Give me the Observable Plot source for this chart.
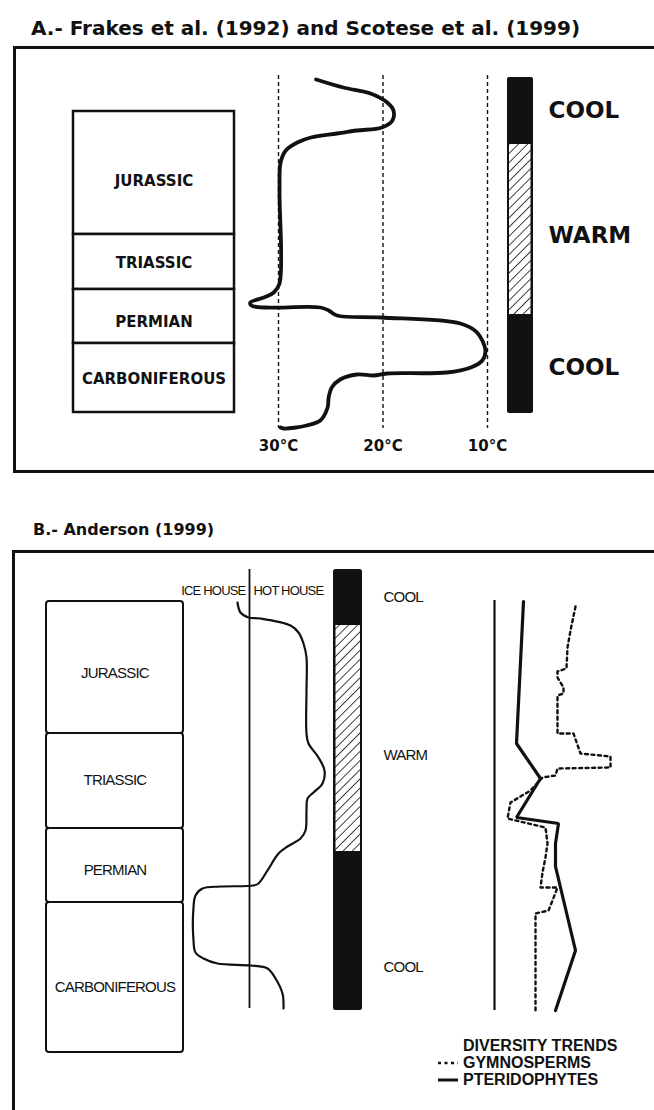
<!DOCTYPE html>
<html><head><meta charset="utf-8">
<script src="https://cdn.jsdelivr.net/npm/d3@7"></script>
<script src="https://cdn.jsdelivr.net/npm/@observablehq/plot@0.6"></script>
<style>
html,body{margin:0;padding:0;background:#fff;}
body{width:654px;height:1110px;position:relative;overflow:hidden;}
.title{position:absolute;font-family:"DejaVu Sans",Verdana,sans-serif;font-weight:bold;color:#111;white-space:nowrap;}
.frame{position:absolute;border:3px solid #111;box-sizing:border-box;}
.panel{position:absolute;left:0;width:654px;}
.panel svg{position:absolute;left:0;top:0;}
.legend{position:absolute;left:437px;top:1037px;font-family:"Liberation Sans",Arial,sans-serif;font-weight:bold;font-size:16px;line-height:17px;color:#111;}
.legend div{display:flex;align-items:center;white-space:nowrap;}
.legend svg{width:22px;height:10px;margin-right:4px;flex:none;}
</style></head><body>
<svg width="0" height="0" style="position:absolute"><defs>
<pattern id="hatch" width="6.5" height="6.5" patternUnits="userSpaceOnUse" patternTransform="rotate(45)">
<rect width="6.5" height="6.5" fill="white"/>
<line x1="0" y1="0" x2="0" y2="6.5" stroke="#111" stroke-width="1.6"/>
</pattern></defs></svg>

<div class="title" style="left:31px;top:15px;font-size:20px;line-height:26px">A.- Frakes et al. (1992) and Scotese et al. (1999)</div>
<div class="frame" style="left:13px;top:46px;width:660px;height:427px"></div>
<div class="panel" id="panelA" style="top:46px;height:428px"></div>

<div class="title" style="left:33px;top:520px;font-size:16px;line-height:20px">B.- Anderson (1999)</div>
<div class="frame" style="left:12px;top:550px;width:660px;height:600px"></div>
<div class="panel" id="panelB" style="top:550px;height:560px"></div>
<div class="legend" id="legend"></div>

<script>
// ---------- shared categories ----------
const periods = ["JURASSIC", "TRIASSIC", "PERMIAN", "CARBONIFEROUS"];
const climateStates = ["COOL", "WARM", "COOL"];

// ---------- Panel A : Frakes et al. (1992) / Scotese et al. (1999) ----------
// vertical unit = stratigraphic level (top of figure = 0)
const boundsA = [111, 234, 289, 343, 412];
const labelLevelA = [181, 263, 322, 379];
const tempTicksA = [30, 20, 10];
const tempLinesA = [75, 428];
const curveA_temp = [26.4, 23.8, 21.2, 19.6, 19.0, 19.1, 20.1, 22.5, 24.4, 26.9, 28.2, 29.3, 29.8, 29.9, 29.9, 30.45, 31.4, 32.7, 32.6, 31.4, 26.0, 25.2, 24.4, 20.2, 12.6, 11.0, 10.2, 10.5, 11.6, 13.9, 19.6, 20.9, 22.5, 24.1, 24.9, 25.2, 25.3, 26.0, 27.3, 29.5, 29.8];
const curveA_level = [79, 87, 93, 102, 110, 120, 127, 130, 133, 137, 142, 150, 162, 190, 283, 292, 297, 302, 305, 307, 307, 310, 315, 317, 323, 332, 350, 360, 367, 372, 373, 375, 374, 379, 387, 397, 407, 420, 425, 428, 427];
const climateBoundsA = [77, 144, 314, 413];
const climateLabelLevelA = [110, 235, 367];

// ---------- Panel B : Anderson (1999) ----------
const boundsB = [601, 733, 828, 902, 1052];
const labelLevelB = [673, 780, 870, 987];
const houseLabels = ["ICE HOUSE", "HOT HOUSE"];
const houseDivide = 0;
const houseLineB = [569, 1008];
const curveB_index = [-1.2, -0.9, -0.1, 1.1, 4.1, 4.9, 5.4, 5.7, 5.7, 5.7, 5.9, 6.9, 7.5, 7.3, 6.4, 5.8, 5.7, 5.6, 5.1, 3.8, 2.9, 1.8, 0.9, 0.4, -2.9, -4.7, -5.4, -5.6, -5.6, -5.4, -4.6, -3.2, 0.1, 1.8, 2.6, 3.3, 3.4];
const curveB_level = [602, 612, 617, 618, 625, 632, 643, 657, 690, 733, 743, 757, 770, 783, 792, 798, 810, 830, 838, 846, 853, 870, 883, 885, 886, 888, 895, 907, 940, 952, 958, 963, 965, 968, 978, 993, 1008];
const climateBoundsB = [569, 625, 851, 1010];
const climateLabelLevelB = [597, 755, 967];

// diversity trends
const diversitySeries = ["GYMNOSPERMS", "PTERIDOPHYTES"];
const diversityBaseline = [600, 1010];
const pteridoValue = [2.9, 2.2, 4.6, 2.2, 6.4, 6.1, 6.1, 8.1, 6.1];
const pteridoLevel = [601, 743, 778, 817, 823, 843, 866, 950, 1010];
const gymnoValue = [8.1, 7.6, 7.3, 7.2, 6.3, 6.3, 6.9, 6.9, 6.3, 6.3, 7.9, 8.6, 11.6, 11.6, 6.3, 6.1, 4.8, 3.6, 1.6, 1.3, 5.1, 5.3, 5.1, 4.8, 4.6, 6.3, 5.8, 5.4, 4.1, 4.1];
const gymnoLevel = [606, 630, 647, 668, 671, 677, 687, 693, 695, 733, 733, 753, 756, 767, 768, 775, 777, 790, 802, 818, 827, 843, 857, 872, 887, 887, 900, 910, 913, 1010];

// ---------- tables ----------
const ink = "#111";
const periodTable = (b, l) => periods.map((p, i) => ({period: p, y1: b[i], y2: b[i + 1], ly: l[i]}));
const climateTable = (b, l) => climateStates.map((s, i) => ({state: s, y1: b[i], y2: b[i + 1], ly: l[i]}));
const zipXY = (xs, ys) => xs.map((x, i) => ({x, y: ys[i]}));

function layer(container, top, H, opts) {
  const svg = Plot.plot(Object.assign({
    width: 654, height: H,
    marginTop: 0, marginBottom: 0, marginLeft: 0, marginRight: 0
  }, opts, {
    y: {domain: [top, top + H], range: [0, H], axis: null},
    style: {background: "transparent", overflow: "visible"}
  }));
  container.append(svg);
}

// ===== Panel A =====
const pA = document.getElementById("panelA");
const topA = 46, HA = 428;
const fontA = "DejaVu Sans, Verdana, sans-serif";

// stratigraphic column
layer(pA, topA, HA, {
  marginLeft: 73, marginRight: 654 - 234,
  marks: [
    Plot.rect(periodTable(boundsA, labelLevelA), {y1: "y1", y2: "y2", fill: "white", stroke: ink, strokeWidth: 2.5}),
    Plot.text(periodTable(boundsA, labelLevelA), {y: "ly", text: "period", fontFamily: fontA, fontWeight: "bold", fontSize: 15, fill: ink})
  ]
});

// temperature curve
layer(pA, topA, HA, {
  marginBottom: HA - (450 - topA),
  x: {domain: [30, 10], range: [278, 487], axis: null},
  marks: [
    Plot.ruleX(tempTicksA, {x: d => d, y1: () => tempLinesA[0], y2: () => tempLinesA[1], stroke: ink, strokeWidth: 1.4, strokeDasharray: "4,3"}),
    Plot.line(zipXY(curveA_temp, curveA_level), {x: "x", y: "y", curve: "catmull-rom", stroke: ink, strokeWidth: 3.8, strokeLinejoin: "round", strokeLinecap: "round"}),
    Plot.text(tempTicksA, {x: d => d, text: d => `${d}°C`, frameAnchor: "bottom", fontFamily: fontA, fontWeight: "bold", fontSize: 15, fill: ink})
  ]
});

// climate bar
layer(pA, topA, HA, {
  marginLeft: 507, marginRight: 654 - 533,
  marks: [
    Plot.rect([{y1: climateBoundsA[0], y2: climateBoundsA[3]}], {y1: "y1", y2: "y2", fill: ink, rx: 2}),
    Plot.rect(climateTable(climateBoundsA, climateLabelLevelA).filter(d => d.state === "WARM"), {y1: "y1", y2: "y2", fill: "url(#hatch)", insetLeft: 2, insetRight: 2.5})
  ]
});

// climate labels
layer(pA, topA, HA, {
  marginLeft: 548,
  marks: [
    Plot.text(climateTable(climateBoundsA, climateLabelLevelA), {y: "ly", text: "state", frameAnchor: "left", textAnchor: "start", fontFamily: fontA, fontWeight: "bold", fontSize: 23, fill: ink})
  ]
});

// ===== Panel B =====
const pB = document.getElementById("panelB");
const topB = 550, HB = 560;
const fontB = "Liberation Sans, Arial, sans-serif";

layer(pB, topB, HB, {
  marginLeft: 46, marginRight: 654 - 183,
  marks: [
    Plot.rect(periodTable(boundsB, labelLevelB), {y1: "y1", y2: "y2", fill: "white", stroke: ink, strokeWidth: 2, rx: 3}),
    Plot.text(periodTable(boundsB, labelLevelB), {y: "ly", text: "period", fontFamily: fontB, fontSize: 15, fill: ink})
  ]
});

// ice house / hot house curve
layer(pB, topB, HB, {
  marginTop: 585 - topB,
  x: {domain: [-6, 8], range: [189, 329], axis: null},
  marks: [
    Plot.ruleX([{x: houseDivide, y1: houseLineB[0], y2: houseLineB[1]}], {x: "x", y1: "y1", y2: "y2", stroke: ink, strokeWidth: 1.8}),
    Plot.line(zipXY(curveB_index, curveB_level), {x: "x", y: "y", curve: "catmull-rom", stroke: ink, strokeWidth: 2.2, strokeLinejoin: "round"}),
    Plot.text([houseLabels[0]], {x: () => houseDivide, frameAnchor: "top", text: d => d, textAnchor: "end", dx: -4, fontFamily: fontB, fontSize: 13, fill: ink}),
    Plot.text([houseLabels[1]], {x: () => houseDivide, frameAnchor: "top", text: d => d, textAnchor: "start", dx: 4, fontFamily: fontB, fontSize: 13, fill: ink})
  ]
});

// climate bar B
layer(pB, topB, HB, {
  marginLeft: 333, marginRight: 654 - 362,
  marks: [
    Plot.rect([{y1: climateBoundsB[0], y2: climateBoundsB[3]}], {y1: "y1", y2: "y2", fill: ink, rx: 2.5}),
    Plot.rect(climateTable(climateBoundsB, climateLabelLevelB).filter(d => d.state === "WARM"), {y1: "y1", y2: "y2", fill: "url(#hatch)", insetLeft: 2.5, insetRight: 2})
  ]
});

// climate labels B
layer(pB, topB, HB, {
  marginLeft: 383,
  marks: [
    Plot.text(climateTable(climateBoundsB, climateLabelLevelB), {y: "ly", text: "state", frameAnchor: "left", textAnchor: "start", fontFamily: fontB, fontSize: 15, fill: ink})
  ]
});

// diversity trends
layer(pB, topB, HB, {
  x: {domain: [0, 12], range: [494, 614], axis: null},
  marks: [
    Plot.ruleX([{x: 0, y1: diversityBaseline[0], y2: diversityBaseline[1]}], {x: "x", y1: "y1", y2: "y2", stroke: ink, strokeWidth: 2.2}),
    Plot.line(zipXY(gymnoValue, gymnoLevel), {x: "x", y: "y", stroke: ink, strokeWidth: 2.4, strokeDasharray: "3,3.5"}),
    Plot.line(zipXY(pteridoValue, pteridoLevel), {x: "x", y: "y", stroke: ink, strokeWidth: 3.2, strokeLinejoin: "miter"})
  ]
});

// letter spacing for the narrow lettering in panel B
pB.querySelectorAll("text").forEach(t => t.setAttribute("letter-spacing", "-0.8"));

// legend
const legend = document.getElementById("legend");
const rows = [["", null], [diversitySeries[0], "3,3.5"], [diversitySeries[1], "none"]];
legend.innerHTML =
  `<div><span style="display:inline-block;width:26px"></span>DIVERSITY TRENDS</div>` +
  rows.slice(1).map(([name, dash]) =>
    `<div><svg viewBox="0 0 22 10"><line x1="1" x2="21" y1="5" y2="5" stroke="${ink}" stroke-width="${dash === "none" ? 3 : 2.4}" ${dash === "none" ? "" : `stroke-dasharray="${dash}"`}/></svg>${name}</div>`
  ).join("");
</script>
</body></html>
